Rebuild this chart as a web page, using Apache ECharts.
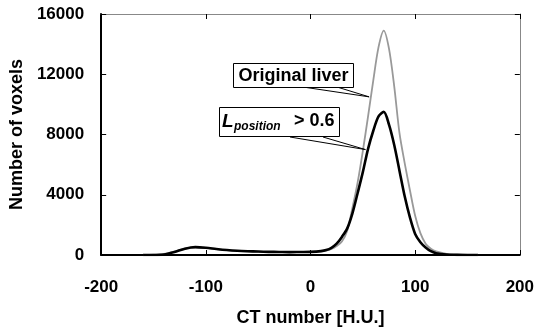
<html>
<head>
<meta charset="UTF-8">
<script src="https://cdn.jsdelivr.net/npm/echarts@6/dist/echarts.min.js"></script>
<style type="text/css">
body{margin:0;background:#fff;}
#chart{width:537px;height:332px;}
</style>
</head>
<body>
<div id="chart"></div>
<script type="text/javascript">
// CT number (H.U.) sample points
var ctNumber=[-160,-150,-140,-130,-120,-110,-100,-90,-80,-70,-60,-50,-40,-30,-20,-10,0,10,15,20,25,30,35,40,45,50,55,60,65,70,75,80,85,90,95,100,105,110,115,120,130,140,150,160];
// Original liver (gray)
var originalLiver=[0,20,70,220,420,510,470,390,320,270,240,220,200,190,180,190,200,240,290,400,600,900,1600,3100,4800,6900,9200,11600,13800,14900,13700,11200,8100,6100,4300,2600,1450,750,420,240,80,20,0,0];
// L position > 0.6 (black)
var lPosition=[0,0,30,200,420,520,480,400,330,280,250,230,210,200,190,200,210,260,330,480,750,1200,1750,2750,4100,5500,7050,8250,9200,9500,8650,7300,5600,3900,2500,1400,850,500,250,120,30,10,0,0];
// callout tips [ct, count]
var tipOriginal=[56,10500];
var tipL=[52.5,7000];

var font='Liberation Sans';
function pairs(ys){
	var out=[];
	for(var i=0;i<ctNumber.length;i++){out.push([ctNumber[i],ys[i]]);}
	return out;
}
function plain(v){return String(v);}
var dom=document.getElementById("chart");
var myChart=echarts.init(dom);
var option={
	animation:false,
	grid:{left:99,right:14,top:14,bottom:75},
	xAxis:[{
		type:'value',min:-200,max:200,interval:100,position:'bottom',
		axisLine:{onZero:false,lineStyle:{color:'#000',width:2}},
		axisTick:{inside:true,length:5,lineStyle:{color:'#000'}},
		axisLabel:{color:'#000',fontSize:17,fontWeight:'bold',fontFamily:font,margin:24,formatter:plain},
		splitLine:{show:false},
		name:'CT number [H.U.]',nameLocation:'middle',nameGap:54,
		nameTextStyle:{color:'#000',fontSize:18,fontWeight:'bold',fontFamily:font}
	},{
		type:'value',min:-200,max:200,interval:100,position:'top',
		axisLine:{onZero:false,lineStyle:{color:'#888',width:1}},
		axisTick:{inside:true,length:5,lineStyle:{color:'#000'}},
		axisLabel:{show:false},splitLine:{show:false}
	}],
	yAxis:[{
		type:'value',min:0,max:16000,interval:4000,position:'left',
		axisLine:{show:true,onZero:false,lineStyle:{color:'#000',width:2}},
		axisTick:{show:true,inside:true,length:5,lineStyle:{color:'#000'}},
		axisLabel:{color:'#000',fontSize:17,fontWeight:'bold',fontFamily:font,margin:17,formatter:plain},
		splitLine:{show:false},
		name:'Number of voxels',nameLocation:'middle',nameGap:75,
		nameTextStyle:{color:'#000',fontSize:18,fontWeight:'bold',fontFamily:font}
	},{
		type:'value',min:0,max:16000,interval:4000,position:'right',
		axisLine:{show:true,onZero:false,lineStyle:{color:'#888',width:1}},
		axisTick:{show:true,inside:true,length:5,lineStyle:{color:'#000'}},
		axisLabel:{show:false},splitLine:{show:false}
	}],
	series:[{
		name:'Original liver',type:'line',showSymbol:false,smooth:0.3,
		data:pairs(originalLiver),
		lineStyle:{color:'#999',width:1.8},z:2
	},{
		name:'L position > 0.6',type:'line',showSymbol:false,smooth:0.3,
		data:pairs(lPosition),
		lineStyle:{color:'#000',width:2.6},z:3
	}]
};
myChart.setOption(option);

var p1=myChart.convertToPixel({gridIndex:0},tipOriginal);
var p2=myChart.convertToPixel({gridIndex:0},tipL);
var bold='bold 18px '+font;
myChart.setOption({graphic:[
	{type:'polyline',z:10,shape:{points:[[303,87],p1,[337,87]]},style:{stroke:'#000',fill:null,lineWidth:1}},
	{type:'polyline',z:10,shape:{points:[[290,137],p2,[323,137]]},style:{stroke:'#000',fill:null,lineWidth:1}},
	{type:'rect',z:11,shape:{x:233.5,y:63.5,width:120,height:24},style:{fill:'#fff',stroke:'#000',lineWidth:1}},
	{type:'text',z:12,style:{x:293.5,y:76,text:'Original liver',font:bold,fill:'#000',align:'center',verticalAlign:'middle'}},
	{type:'rect',z:11,shape:{x:219.5,y:107.5,width:120,height:29},style:{fill:'#fff',stroke:'#000',lineWidth:1}},
	{type:'text',z:12,style:{x:222,y:122,text:'L',font:'italic bold 19px '+font,fill:'#000',align:'left',verticalAlign:'middle'}},
	{type:'text',z:12,style:{x:234,y:127,text:'position',font:'italic bold 12px '+font,fill:'#000',align:'left',verticalAlign:'middle'}},
	{type:'text',z:12,style:{x:294,y:121,text:'> 0.6',font:bold,fill:'#000',align:'left',verticalAlign:'middle'}}
]});
</script>
</body>
</html>
